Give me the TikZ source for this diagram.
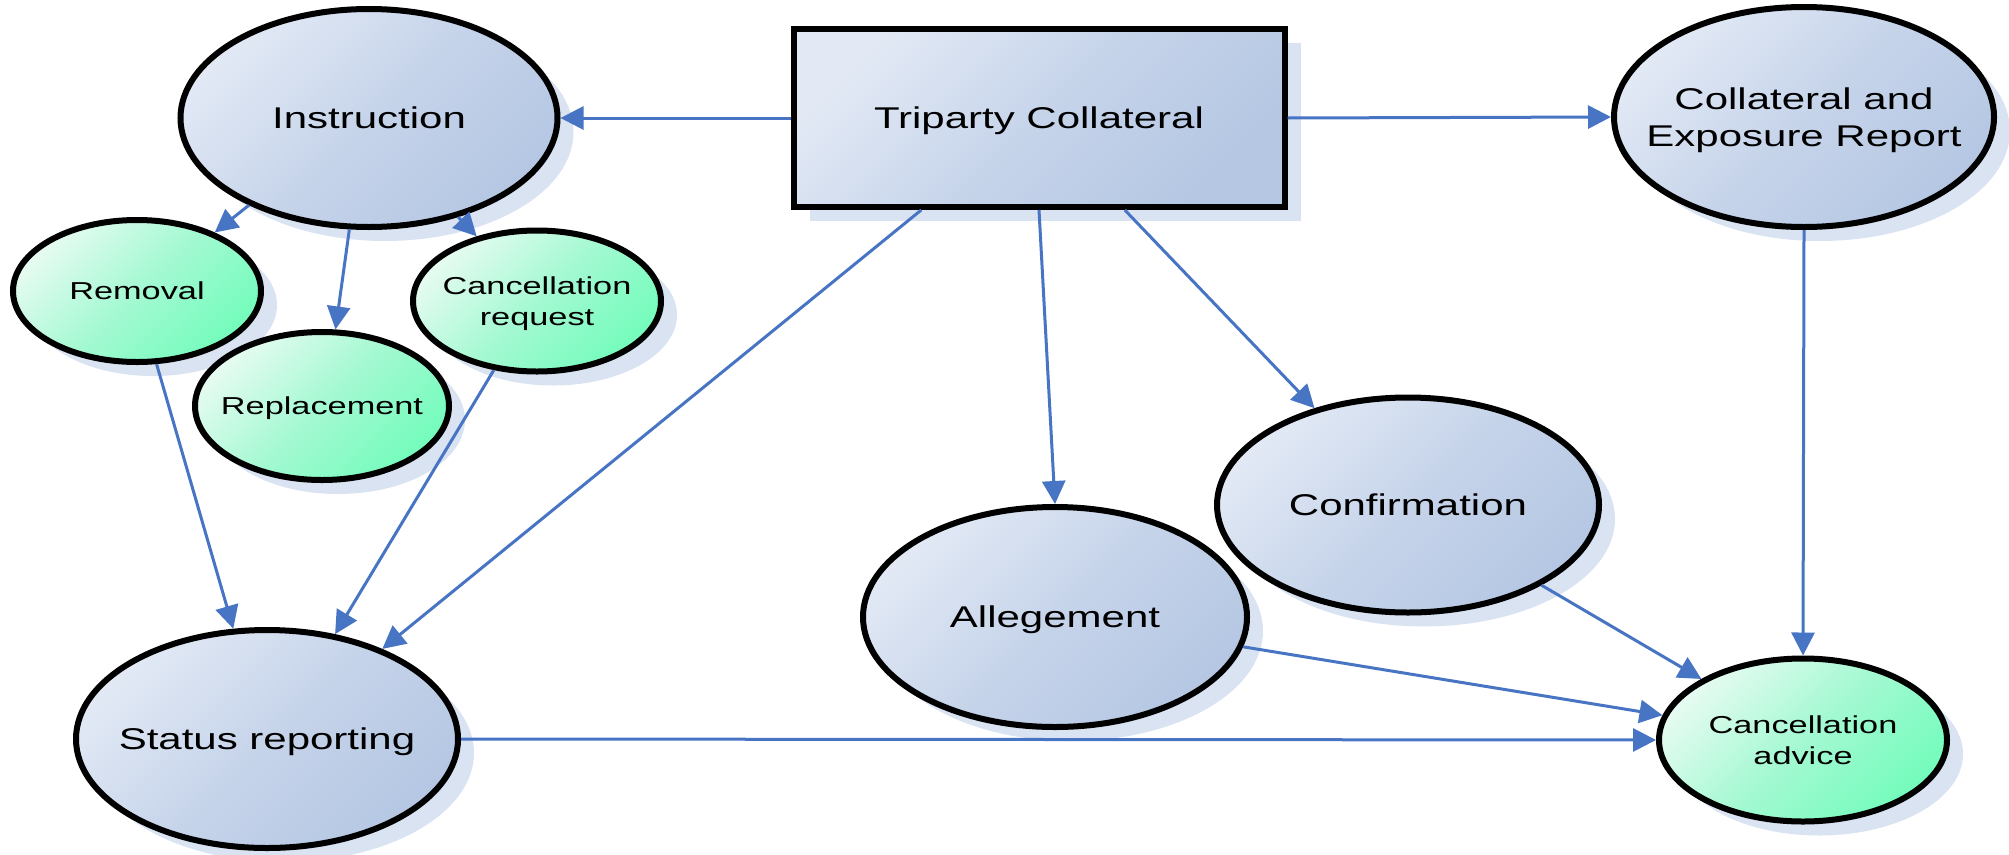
\documentclass[tikz,border=0pt]{standalone}
\usepackage{fontspec}
\setmainfont{Liberation Sans}[FakeStretch=1.4]
\usetikzlibrary{arrows.meta,shapes.geometric,shadows}
\definecolor{arrowc}{HTML}{4874C4}
\definecolor{blueL}{HTML}{E2E9F5}
\definecolor{blueM}{HTML}{C6D4EA}
\definecolor{blueD}{HTML}{B5C7E3}
\definecolor{greenL}{HTML}{E6FBF1}
\definecolor{greenM}{HTML}{A4F9D2}
\definecolor{greenD}{HTML}{74FCBC}
\definecolor{shadowc}{HTML}{DAE3F2}
\tikzset{
  base/.style={draw=black, line width=6pt, inner sep=-40pt, align=center, text depth=0pt,
    general shadow={fill=shadowc, shadow xshift=16pt, shadow yshift=-14pt}},
  bluefill/.style={top color=blueL, bottom color=blueD, middle color=blueM, shading angle=45},
  greenfill/.style={top color=greenL, bottom color=greenD, middle color=greenM, shading angle=45},
  bigtext/.style={font=\fontsize{30}{37}\selectfont},
  smalltext/.style={font=\fontsize{24.5}{31}\selectfont},
  blueell/.style={base, ellipse, bluefill, bigtext},
  greenell/.style={base, ellipse, greenfill, smalltext},
  conn/.style={draw=arrowc, line width=3pt, -{Triangle[length=23pt,width=23pt]}}
}
\begin{document}
\begin{tikzpicture}[x=1pt,y=-1pt]
\useasboundingbox (0,0) rectangle (2009,854);
\node[base, rectangle, bluefill, bigtext, minimum width=491pt, minimum height=178pt] (tri) at (1039,118) {Triparty Collateral};
\node[blueell, minimum width=377pt, minimum height=218pt] (instr) at (369,118) {Instruction};
\node[blueell, minimum width=380pt, minimum height=220pt] (cer) at (1804,117) {Collateral and\\Exposure Report};
\node[greenell, minimum width=248pt, minimum height=142pt] (rem) at (137,291) {Removal};
\node[greenell, minimum width=254pt, minimum height=148pt] (repl) at (322,406) {Replacement};
\node[greenell, minimum width=248pt, minimum height=141pt] (creq) at (537,301) {Cancellation\\request};
\node[blueell, minimum width=382pt, minimum height=218pt] (stat) at (267,739) {Status reporting};
\node[blueell, minimum width=384pt, minimum height=220pt] (alleg) at (1055,617) {Allegement};
\node[blueell, minimum width=382pt, minimum height=215pt] (conf) at (1408,505) {Confirmation};
\node[greenell, minimum width=288pt, minimum height=163pt] (cadv) at (1803,740) {Cancellation\\advice};

\draw[conn] (tri.west) -- (instr.east);
\draw[conn] (tri.east) -- (cer.west);
\draw[conn] (tri.south) -- (alleg.north);
\draw[conn] (tri.-47) -- (conf.134);
\draw[conn] (tri.218.5) -- (stat.38.5);
\draw[conn] (instr.216.5) -- (rem.37);
\draw[conn] (instr.260.5) -- (repl.80);
\draw[conn] (instr.-48) -- (creq.133);
\draw[conn] (rem.-75) -- (stat.107);
\draw[conn] (creq.238) -- (stat.57.6);
\draw[conn] (stat.east) -- (cadv.west);
\draw[conn] (alleg.-9.4) -- (cadv.170.5);
\draw[conn] (conf.-31) -- (cadv.149.5);
\draw[conn] (cer.south) -- (cadv.north);
\end{tikzpicture}
\end{document}
